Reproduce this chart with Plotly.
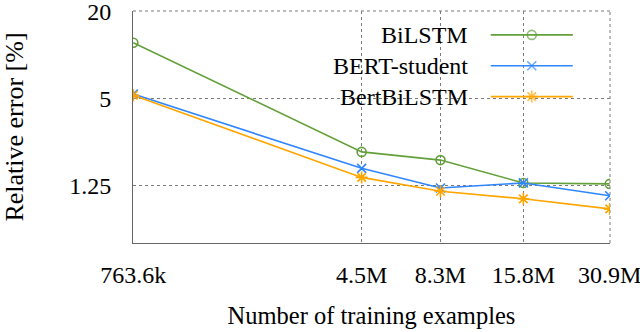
import plotly.graph_objects as go
import numpy as np

# training set sizes and their tick labels
n_examples = [763.6e3, 4.5e6, 8.3e6, 15.8e6, 30.9e6]
x_labels = ['763.6k', '4.5M', '8.3M', '15.8M', '30.9M']

# relative error [%]
bilstm = [12.1, 2.13, 1.87, 1.30, 1.28]
bert_student = [5.35, 1.64, 1.20, 1.30, 1.06]
bert_bilstm = [5.25, 1.42, 1.14, 1.01, 0.86]

y_ticks = [1.25, 5, 20]
y_labels = ['1.25', '5', '20']

series = [
    ('BiLSTM', bilstm, '#63a03a', 'circle-open', 9),
    ('BERT-student', bert_student, '#2f86ff', 'x-thin-open', 9),
    ('BertBiLSTM', bert_bilstm, '#ffa500', 'asterisk-open', 10),
]

FONT = 'Liberation Serif, Times New Roman, serif'
GRID = '#7a7a7a'
EPS = 0.001

fig = go.Figure()

for name, vals, col, sym, sz in series:
    fig.add_trace(go.Scatter(
        x=n_examples, y=vals, mode='lines+markers', name=name,
        line=dict(color=col, width=1.6),
        marker=dict(symbol=sym, size=sz, color=col, line=dict(color=col, width=1.6)),
        showlegend=False,
    ))

# hand-made legend: text on the left, sample on the right (pgfplots style)
leg_x_text = 0.706
leg_x0, leg_x1, leg_xm = 0.75, 0.922, 0.836
leg_ys = [0.897, 0.764, 0.631]

shapes = [
    dict(type='rect', xref='paper', yref='paper', x0=0.245, x1=0.958, y0=0.56, y1=0.961,
         fillcolor='white', line=dict(width=0), layer='between'),
    # top and right frame edges = outermost grid lines
    dict(type='line', xref='paper', yref='paper', x0=0, x1=1, y0=1, y1=1,
         line=dict(color=GRID, width=1, dash='dot'), layer='between'),
    dict(type='line', xref='paper', yref='paper', x0=1, x1=1, y0=0, y1=1,
         line=dict(color=GRID, width=1, dash='dot'), layer='between'),
]
annotations = []
for (name, vals, col, sym, sz), ly in zip(series, leg_ys):
    annotations.append(dict(text=name, xref='paper', yref='paper', x=leg_x_text, y=ly,
                            xanchor='right', yanchor='middle', showarrow=False,
                            font=dict(family=FONT, size=24, color='black')))
    fig.add_trace(go.Scatter(
        x=[leg_x0, leg_xm, leg_x1], y=[ly, ly, ly], xaxis='x2', yaxis='y2',
        mode='lines+markers', line=dict(color=col, width=1.6),
        marker=dict(symbol=sym, size=[0, sz, 0], color=col, line=dict(color=col, width=1.6)),
        showlegend=False, hoverinfo='skip',
    ))

fig.update_layout(
    width=640, height=332,
    margin=dict(l=133, r=30, t=11, b=89),
    plot_bgcolor='white', paper_bgcolor='white',
    font=dict(family=FONT, size=24, color='black'),
    shapes=shapes, annotations=annotations,
    xaxis=dict(
        type='log', range=[np.log10(n_examples[0]) - EPS, np.log10(n_examples[-1]) + EPS],
        tickvals=n_examples, ticktext=x_labels, ticks='', ticklabelstandoff=10,
        ticklabeloverflow='allow', tickfont=dict(family=FONT, size=24),
        showgrid=True, gridcolor=GRID, griddash='dot', gridwidth=1,
        showline=True, linecolor='#666', linewidth=1, zeroline=False, automargin=False,
        title=dict(text='Number of training examples', standoff=20,
                   font=dict(family=FONT, size=24.5)),
    ),
    yaxis=dict(
        type='log', range=[np.log10(0.5), np.log10(20) + EPS],
        tickvals=y_ticks, ticktext=y_labels, ticks='', ticklabelstandoff=16,
        ticklabeloverflow='allow', tickfont=dict(family=FONT, size=24),
        showgrid=True, gridcolor=GRID, griddash='dot', gridwidth=1,
        showline=True, linecolor='#666', linewidth=1, zeroline=False, automargin=False,
        title=dict(text='Relative error [%]', standoff=40, font=dict(family=FONT, size=26)),
    ),
    xaxis2=dict(overlaying='x', range=[0, 1], visible=False, fixedrange=True),
    yaxis2=dict(overlaying='y', range=[0, 1], visible=False, fixedrange=True),
)

fig.write_html('out.html', config={'displayModeBar': False},
               post_script="document.body.style.margin='0';")
